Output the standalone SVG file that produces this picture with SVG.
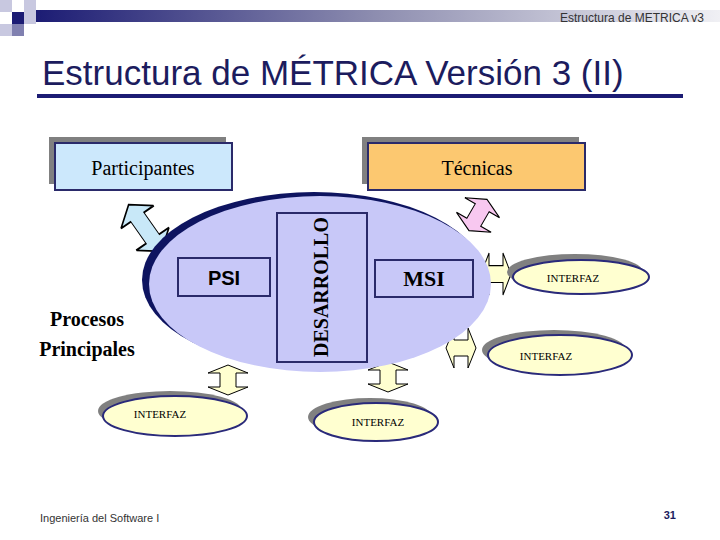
<svg xmlns="http://www.w3.org/2000/svg" xmlns:xlink="http://www.w3.org/1999/xlink" width="720" height="540" viewBox="0 0 720 540">
<style>
.ser{font-family:"Liberation Serif",serif}
.san{font-family:"Liberation Sans",Arial,sans-serif}
.box{stroke:#2a2a6a;stroke-width:2}
.sh{fill:#808080}
.ifz{fill:#ffffd0;stroke:#2a2a7a;stroke-width:2}
.arr{stroke:#000;stroke-width:1}
</style>
<defs>
<linearGradient id="hg" x1="0" x2="1" y1="0" y2="0">
<stop offset="0" stop-color="#1c1c74"/><stop offset="0.5" stop-color="#8e8eb0"/><stop offset="1" stop-color="#f0f0f4"/>
</linearGradient>
<path id="da" d="M0,-15 L20,-7 L8,-7 L8,7 L20,7 L0,15 L-20,7 L-8,7 L-8,-7 L-20,-7 Z"/>
</defs>
<rect width="720" height="540" fill="#fff"/>
<g id="header">
<rect x="35" y="10" width="685" height="12" fill="url(#hg)"/>
<rect x="0" y="0" width="12" height="12" fill="#c8c8e0"/>
<rect x="24" y="0" width="12" height="12" fill="#c8c8e0"/>
<rect x="12" y="12" width="12" height="12" fill="#1c1c74"/>
<rect x="24" y="12" width="12" height="12" fill="#c8c8e0"/>
<rect x="0" y="24" width="12" height="12" fill="#c8c8e0"/>
<rect x="12" y="24" width="12" height="12" fill="#8080b0"/>
<text x="704" y="22" class="san" font-size="12" text-anchor="end" fill="#333">Estructura de METRICA v3</text>
<text x="42" y="85" class="san" font-size="35" fill="#1c1c5e">Estructura de MÉTRICA Versión 3 (II)</text>
<rect x="37" y="94" width="646" height="4" fill="#1c1c74"/>
</g>
<g id="connectors">
<use xlink:href="#da" class="arr" fill="#c8e8f8" transform="translate(145,228) rotate(-35) scale(1,1.9)"/>
<use xlink:href="#da" class="arr" fill="#f8c8f0" transform="translate(478,215) rotate(30) scale(1,1.2)"/>
<use xlink:href="#da" class="arr" fill="#ffffd0" transform="translate(496,274) rotate(90) scale(1.05,1)"/>
<use xlink:href="#da" class="arr" fill="#ffffd0" transform="translate(461,348) rotate(90) scale(1,1)"/>
<use xlink:href="#da" class="arr" fill="#ffffd0" transform="translate(228,380)"/>
<use xlink:href="#da" class="arr" fill="#ffffd0" transform="translate(388,377)"/>
</g>
<g id="participantes">
<rect x="49" y="137" width="177" height="47" class="sh"/>
<rect x="55" y="143" width="177" height="47" fill="#cce8fc" class="box"/>
<text x="143" y="175" class="ser" font-size="20" text-anchor="middle">Participantes</text>
</g>
<g id="tecnicas">
<rect x="362" y="137" width="217" height="47" class="sh"/>
<rect x="368" y="143" width="217" height="47" fill="#fcc870" class="box"/>
<text x="477" y="175" class="ser" font-size="20" text-anchor="middle">Técnicas</text>
</g>
<g id="procesos">
<ellipse cx="314" cy="280" rx="172" ry="88" fill="#0e1460"/>
<ellipse cx="320" cy="284" rx="171" ry="88" fill="#c8c8f8"/>
<text x="87" y="326" class="ser" font-size="20" font-weight="bold" text-anchor="middle">Procesos</text>
<text x="87" y="356" class="ser" font-size="20" font-weight="bold" text-anchor="middle">Principales</text>
</g>
<g id="psi">
<rect x="178" y="258" width="92" height="38" fill="#c8c8f8" class="box"/>
<text x="224" y="285" class="san" font-size="20" font-weight="bold" text-anchor="middle">PSI</text>
</g>
<g id="desarrollo">
<rect x="277" y="213" width="90" height="149" fill="#c8c8f8" class="box"/>
<text transform="translate(328,287) rotate(-90)" class="ser" font-size="20" font-weight="bold" text-anchor="middle">DESARROLLO</text>
</g>
<g id="msi">
<rect x="375" y="260" width="98" height="37" fill="#c8c8f8" class="box"/>
<text x="424" y="286" class="ser" font-size="22" font-weight="bold" text-anchor="middle">MSI</text>
</g>
<g id="interfaz1">
<ellipse cx="575" cy="272" rx="68" ry="18" class="sh"/>
<ellipse cx="581" cy="277" rx="68" ry="17" class="ifz"/>
<text x="573" y="282" class="ser" font-size="11" text-anchor="middle">INTERFAZ</text>
</g>
<g id="interfaz2">
<ellipse cx="554" cy="350" rx="72" ry="20" class="sh"/>
<ellipse cx="560" cy="355" rx="72" ry="20" class="ifz"/>
<text x="546" y="360" class="ser" font-size="11" text-anchor="middle">INTERFAZ</text>
</g>
<g id="interfaz3">
<ellipse cx="170" cy="411" rx="72" ry="20" class="sh"/>
<ellipse cx="175" cy="416" rx="72" ry="20" class="ifz"/>
<text x="160" y="418" class="ser" font-size="11" text-anchor="middle">INTERFAZ</text>
</g>
<g id="interfaz4">
<ellipse cx="370" cy="417" rx="62" ry="19" class="sh"/>
<ellipse cx="376" cy="422" rx="62" ry="19" class="ifz"/>
<text x="378" y="426" class="ser" font-size="11" text-anchor="middle">INTERFAZ</text>
</g>
<g id="footer">
<text x="40" y="522" class="san" font-size="11" fill="#333">Ingeniería del Software I</text>
<text x="676" y="519" class="san" font-size="11" font-weight="bold" text-anchor="end" fill="#1c1c5e">31</text>
</g>
</svg>
